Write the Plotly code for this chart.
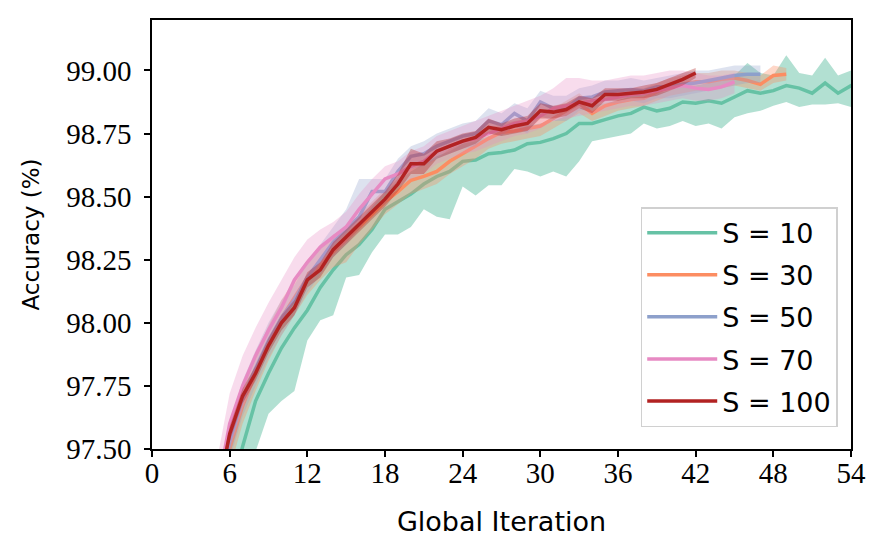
import plotly.graph_objects as go

# accuracy (%) per global iteration, mean and band edges
iters_10 = list(range(5, 56))
mean_10 = [97.10, 97.30, 97.51, 97.69, 97.80, 97.90, 97.98, 98.05, 98.14, 98.21,
           98.27, 98.31, 98.37, 98.45, 98.48, 98.51, 98.55, 98.58, 98.60, 98.64,
           98.645, 98.67, 98.675, 98.685, 98.71, 98.715, 98.73, 98.75, 98.79, 98.79,
           98.805, 98.82, 98.83, 98.855, 98.84, 98.85, 98.875, 98.87, 98.88, 98.87,
           98.895, 98.92, 98.91, 98.92, 98.94, 98.93, 98.91, 98.95, 98.91, 98.94, 98.96]
lo_10 = [96.90, 97.10, 97.30, 97.49, 97.64, 97.69, 97.73, 97.93, 98.01, 98.03,
         98.18, 98.19, 98.28, 98.35, 98.35, 98.38, 98.45, 98.42, 98.41, 98.54,
         98.505, 98.545, 98.545, 98.61, 98.60, 98.58, 98.60, 98.58, 98.64, 98.72,
         98.73, 98.74, 98.75, 98.79, 98.77, 98.78, 98.80, 98.78, 98.79, 98.77,
         98.815, 98.83, 98.84, 98.86, 98.875, 98.855, 98.865, 98.865, 98.87, 98.855, 98.86]
hi_10 = [97.35, 97.52, 97.68, 97.83, 97.94, 98.03, 98.10, 98.16, 98.24, 98.31,
         98.36, 98.40, 98.46, 98.52, 98.56, 98.60, 98.63, 98.66, 98.68, 98.71,
         98.72, 98.74, 98.75, 98.76, 98.78, 98.79, 98.80, 98.82, 98.85, 98.86,
         98.87, 98.88, 98.90, 98.92, 98.91, 98.92, 98.94, 98.94, 98.95, 98.96,
         98.98, 99.03, 98.99, 98.98, 99.06, 98.99, 98.98, 99.05, 98.98, 99.00, 99.02]

iters_30 = list(range(5, 50))
mean_30 = [97.25, 97.50, 97.67, 97.80, 97.92, 98.02, 98.10, 98.18, 98.23, 98.28,
           98.33, 98.38, 98.43, 98.48, 98.52, 98.565, 98.58, 98.60, 98.64, 98.67,
           98.70, 98.73, 98.755, 98.76, 98.77, 98.78, 98.81, 98.84, 98.87, 98.83,
           98.86, 98.875, 98.885, 98.89, 98.915, 98.935, 98.945, 98.955, 98.955, 98.965,
           98.97, 98.96, 98.945, 98.98, 98.985]
lo_30 = [97.15, 97.42, 97.60, 97.73, 97.85, 97.95, 98.03, 98.11, 98.17, 98.22,
         98.24, 98.31, 98.37, 98.43, 98.47, 98.51, 98.53, 98.55, 98.59, 98.62,
         98.65, 98.69, 98.71, 98.72, 98.73, 98.74, 98.77, 98.80, 98.83, 98.80,
         98.82, 98.84, 98.85, 98.86, 98.88, 98.90, 98.91, 98.92, 98.92, 98.93,
         98.94, 98.93, 98.92, 98.95, 98.96]
hi_30 = [97.33, 97.58, 97.74, 97.87, 97.99, 98.09, 98.17, 98.25, 98.30, 98.35,
         98.38, 98.43, 98.48, 98.53, 98.57, 98.61, 98.63, 98.65, 98.69, 98.71,
         98.74, 98.77, 98.79, 98.80, 98.81, 98.82, 98.85, 98.88, 98.91, 98.87,
         98.90, 98.91, 98.92, 98.93, 98.95, 98.97, 98.98, 98.99, 98.99, 99.00,
         99.00, 98.99, 98.98, 99.02, 99.01]

iters_50 = list(range(5, 48))
mean_50 = [97.28, 97.53, 97.70, 97.82, 97.93, 98.02, 98.09, 98.18, 98.25, 98.32,
           98.37, 98.42, 98.52, 98.52, 98.60, 98.66, 98.67, 98.70, 98.72, 98.74,
           98.75, 98.80, 98.785, 98.83, 98.80, 98.875, 98.85, 98.85, 98.89, 98.895,
           98.915, 98.92, 98.925, 98.92, 98.935, 98.935, 98.945, 98.95, 98.96, 98.97,
           98.98, 98.985, 98.985]
lo_50 = [97.20, 97.46, 97.63, 97.75, 97.86, 97.95, 98.03, 98.12, 98.19, 98.26,
         98.31, 98.37, 98.45, 98.47, 98.55, 98.61, 98.62, 98.65, 98.67, 98.69,
         98.70, 98.75, 98.74, 98.78, 98.75, 98.82, 98.80, 98.80, 98.84, 98.85,
         98.87, 98.87, 98.88, 98.87, 98.89, 98.89, 98.90, 98.91, 98.92, 98.93,
         98.94, 98.95, 98.95]
hi_50 = [97.36, 97.60, 97.77, 97.89, 98.00, 98.09, 98.15, 98.24, 98.31, 98.38,
         98.45, 98.57, 98.57, 98.57, 98.65, 98.70, 98.72, 98.75, 98.77, 98.79,
         98.80, 98.85, 98.83, 98.87, 98.85, 98.92, 98.90, 98.90, 98.93, 98.94,
         98.96, 98.96, 98.97, 98.96, 98.97, 98.98, 98.99, 99.00, 99.00, 99.01,
         99.02, 99.02, 99.02]

iters_70 = list(range(5, 46))
mean_70 = [97.33, 97.60, 97.75, 97.87, 97.97, 98.06, 98.17, 98.24, 98.30, 98.34,
           98.38, 98.45, 98.51, 98.57, 98.59, 98.62, 98.64, 98.68, 98.70, 98.72,
           98.73, 98.75, 98.77, 98.79, 98.80, 98.82, 98.85, 98.86, 98.87, 98.88,
           98.885, 98.895, 98.905, 98.91, 98.92, 98.93, 98.94, 98.93, 98.925, 98.935,
           98.955]
lo_70 = [97.22, 97.50, 97.66, 97.79, 97.90, 97.99, 98.09, 98.16, 98.23, 98.28,
         98.32, 98.39, 98.45, 98.51, 98.54, 98.57, 98.59, 98.63, 98.65, 98.67,
         98.68, 98.70, 98.72, 98.74, 98.75, 98.77, 98.80, 98.81, 98.82, 98.83,
         98.84, 98.85, 98.86, 98.86, 98.87, 98.88, 98.89, 98.88, 98.88, 98.89,
         98.91]
hi_70 = [97.45, 97.72, 97.87, 97.98, 98.08, 98.17, 98.26, 98.33, 98.37, 98.40,
         98.44, 98.51, 98.57, 98.62, 98.64, 98.68, 98.70, 98.74, 98.76, 98.78,
         98.80, 98.82, 98.84, 98.86, 98.88, 98.90, 98.93, 98.97, 98.97, 98.96,
         98.96, 98.97, 98.98, 98.98, 98.99, 99.00, 99.00, 98.99, 98.98, 98.98,
         98.99]

iters_100 = list(range(5, 43))
mean_100 = [97.30, 97.56, 97.71, 97.80, 97.91, 98.00, 98.06, 98.17, 98.21, 98.29,
            98.34, 98.39, 98.44, 98.49, 98.55, 98.63, 98.63, 98.68, 98.70, 98.72,
            98.735, 98.775, 98.765, 98.78, 98.79, 98.84, 98.835, 98.845, 98.875, 98.86,
            98.905, 98.905, 98.91, 98.915, 98.925, 98.945, 98.965, 98.99]
lo_100 = [97.27, 97.53, 97.68, 97.77, 97.88, 97.97, 98.03, 98.14, 98.18, 98.26,
          98.31, 98.36, 98.41, 98.46, 98.52, 98.59, 98.59, 98.65, 98.67, 98.69,
          98.71, 98.75, 98.74, 98.75, 98.76, 98.81, 98.81, 98.82, 98.85, 98.83,
          98.88, 98.88, 98.89, 98.89, 98.90, 98.92, 98.94, 98.97]
hi_100 = [97.33, 97.59, 97.74, 97.83, 97.94, 98.03, 98.09, 98.20, 98.24, 98.32,
          98.37, 98.42, 98.47, 98.52, 98.59, 98.69, 98.67, 98.72, 98.73, 98.75,
          98.76, 98.81, 98.79, 98.81, 98.82, 98.87, 98.86, 98.87, 98.90, 98.89,
          98.93, 98.93, 98.93, 98.94, 98.95, 98.97, 98.99, 99.01]

x_ticks = list(range(0, 55, 6))
y_ticks = [97.50, 97.75, 98.00, 98.25, 98.50, 98.75, 99.00]

series = [
    ("S = 10", iters_10, mean_10, lo_10, hi_10, "#66c2a5", "rgba(102,194,165,0.5)"),
    ("S = 30", iters_30, mean_30, lo_30, hi_30, "#fc8d62", "rgba(252,141,98,0.35)"),
    ("S = 50", iters_50, mean_50, lo_50, hi_50, "#8da0cb", "rgba(141,160,203,0.3)"),
    ("S = 70", iters_70, mean_70, lo_70, hi_70, "#e78ac3", "rgba(231,138,195,0.3)"),
    ("S = 100", iters_100, mean_100, lo_100, hi_100, "#b22222", "rgba(178,34,34,0.35)"),
]

fig = go.Figure()

for name, xs, mean, lo, hi, color, fill in series:
    # shaded band: upper edge forward, lower edge back
    fig.add_trace(go.Scatter(
        x=xs + xs[::-1], y=hi + lo[::-1],
        fill="toself", fillcolor=fill, line=dict(width=0),
        mode="lines", hoverinfo="skip", showlegend=False,
    ))
    fig.add_trace(go.Scatter(
        x=xs, y=mean, name=name, mode="lines", legendgroup=name,
        line=dict(color=color, width=3.5),
    ))

axis_common = dict(
    showline=True, linecolor="black", linewidth=1.5, mirror=True,
    ticks="outside", ticklen=6, tickwidth=1.5, tickcolor="black",
    showgrid=False, zeroline=False,
    tickfont=dict(family="Liberation Serif", size=29, color="black"),
)

fig.update_xaxes(range=[0, 54], tickvals=x_ticks, title_text="Global Iteration",
                 title_font=dict(family="DejaVu Sans", size=27, color="black"),
                 title_standoff=25, ticklabelstandoff=-9, **axis_common)
fig.update_yaxes(range=[97.5, 99.2], tickvals=y_ticks, tickformat=".2f",
                 title_text="Accuracy (%)",
                 title_font=dict(family="DejaVu Sans", size=23, color="black"),
                 title_standoff=20, ticklabelstandoff=7, **axis_common)

fig.update_layout(
    width=879, height=550,
    plot_bgcolor="white", paper_bgcolor="white",
    margin=dict(l=144, r=36, t=10, b=109),
    legend=dict(
        x=0.981, y=0.051, xanchor="right", yanchor="bottom",
        bgcolor="rgba(255,255,255,0.85)", bordercolor="#d0d0d0", borderwidth=1.5,
        font=dict(family="DejaVu Sans", size=27, color="black"),
        itemwidth=70, tracegroupgap=4,
    ),
)

fig.write_html("out.html")
